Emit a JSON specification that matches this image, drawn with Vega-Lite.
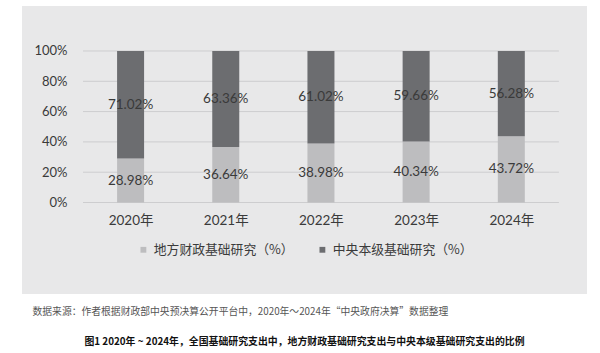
{
  "$schema": "https://vega.github.io/schema/vega-lite/v6.json",
  "width": 565,
  "height": 288,
  "autosize": {"type": "none"},
  "padding": {"left": 22, "top": 6, "right": 13, "bottom": 59},
  "background": "#ffffff",
  "config": {
    "view": {"fill": "#e8e8e9", "stroke": null},
    "font": "Lato, Noto Sans CJK SC"
  },
  "title": {
    "text": "图1  2020年 ~ 2024年，全国基础研究支出中，地方财政基础研究支出与中央本级基础研究支出的比例",
    "orient": "bottom",
    "anchor": "middle",
    "font": "Noto Sans CJK SC",
    "fontSize": 9.9,
    "fontWeight": "bold",
    "color": "#111111",
    "offset": 21
  },
  "layer": [
    {
      "data": {"values": [{"pct": 0}, {"pct": 20}, {"pct": 40}, {"pct": 60}, {"pct": 80}, {"pct": 100}]},
      "mark": {"type": "rule", "color": "#cdcdcf", "strokeWidth": 1},
      "encoding": {
        "x": {"datum": 2019.5, "type": "quantitative"},
        "x2": {"datum": 2024.5},
        "y": {"field": "pct", "type": "quantitative"}
      }
    },
    {
      "data": {
        "values": [
          {"year": 2020, "part": "地方财政基础研究（%）", "value": 28.98},
          {"year": 2020, "part": "中央本级基础研究（%）", "value": 71.02},
          {"year": 2021, "part": "地方财政基础研究（%）", "value": 36.64},
          {"year": 2021, "part": "中央本级基础研究（%）", "value": 63.36},
          {"year": 2022, "part": "地方财政基础研究（%）", "value": 38.98},
          {"year": 2022, "part": "中央本级基础研究（%）", "value": 61.02},
          {"year": 2023, "part": "地方财政基础研究（%）", "value": 40.34},
          {"year": 2023, "part": "中央本级基础研究（%）", "value": 59.66},
          {"year": 2024, "part": "地方财政基础研究（%）", "value": 43.72},
          {"year": 2024, "part": "中央本级基础研究（%）", "value": 56.28}
        ]
      },
      "transform": [
        {"stack": "value", "groupby": ["year"], "sort": [{"field": "part", "order": "descending"}], "as": ["v0", "v1"]},
        {"calculate": "(datum.v0 + datum.v1) / 2", "as": "mid"},
        {"calculate": "format(datum.value, '.2f') + '%'", "as": "label"}
      ],
      "layer": [
        {
          "mark": {"type": "bar", "width": 27},
          "encoding": {
            "x": {"field": "year", "type": "quantitative"},
            "y": {"field": "v0", "type": "quantitative"},
            "y2": {"field": "v1"},
            "color": {
              "field": "part",
              "type": "nominal",
              "scale": {
                "domain": ["地方财政基础研究（%）", "中央本级基础研究（%）"],
                "range": ["#bdbdbf", "#6c6d70"]
              },
              "legend": {
                "title": null,
                "orient": "none",
                "legendX": 115,
                "legendY": 237,
                "direction": "horizontal",
                "symbolType": "square",
                "symbolSize": 34,
                "symbolStrokeWidth": 0,
                "labelFont": "Noto Sans CJK SC",
                "labelFontSize": 12.8,
                "labelColor": "#3a3a3a",
                "labelOffset": 4,
                "columnPadding": 22
              }
            }
          }
        },
        {
          "mark": {"type": "text", "font": "Lato", "fontSize": 13.5, "color": "#3a3a3a", "baseline": "middle"},
          "encoding": {
            "x": {"field": "year", "type": "quantitative"},
            "y": {"field": "mid", "type": "quantitative"},
            "text": {"field": "label", "type": "nominal"}
          }
        }
      ]
    }
  ],
  "resolve": {"scale": {"x": "shared", "y": "shared"}},
  "encoding": {
    "x": {
      "type": "quantitative",
      "scale": {"domain": [2018.9118, 2024.7426], "nice": false, "zero": false},
      "axis": {
        "values": [2020, 2021, 2022, 2023, 2024],
        "labelExpr": "datum.value + '年'",
        "domain": false,
        "ticks": false,
        "grid": false,
        "offset": -83,
        "labelPadding": 2,
        "labelFontSize": 13.5,
        "labelColor": "#3a3a3a",
        "title": "数据来源：作者根据财政部中央预决算公开平台中，2020年～2024年“中央政府决算”数据整理",
        "titleFont": "Noto Sans CJK SC",
        "titleFontSize": 9.8,
        "titleFontWeight": "normal",
        "titleColor": "#555555",
        "titleAnchor": "start",
        "titleAlign": "left",
        "titleBaseline": "top",
        "titleX": 10,
        "titleY": 95
      }
    },
    "y": {
      "type": "quantitative",
      "scale": {"domain": [-60.4, 129.7], "nice": false, "zero": false},
      "axis": {
        "values": [0, 20, 40, 60, 80, 100],
        "labelExpr": "datum.value + '%'",
        "domain": false,
        "ticks": false,
        "grid": false,
        "offset": -47,
        "labelPadding": 2,
        "labelFontSize": 13,
        "labelColor": "#3a3a3a",
        "title": null
      }
    }
  }
}
